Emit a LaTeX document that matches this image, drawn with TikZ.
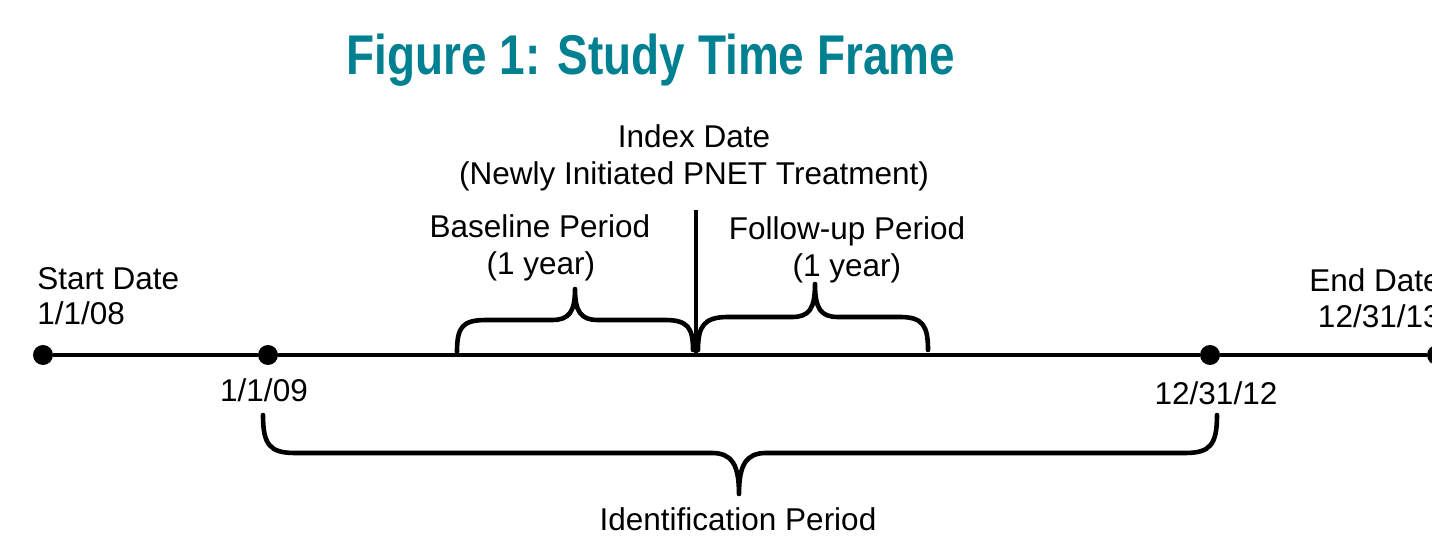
\documentclass[tikz,border=0pt]{standalone}
\usepackage{fontspec}
\setmainfont{Liberation Sans}
\newfontfamily\titlefont[FakeStretch=0.82]{Liberation Sans}
\definecolor{titleteal}{RGB}{0,128,145}
\begin{document}
\begin{tikzpicture}[x=0.5pt,y=-0.5pt,
  lbl/.style={inner sep=0pt, anchor=base, font=\fontsize{15.75}{18.5}\selectfont},
  lbll/.style={lbl, anchor=base west},
  lblr/.style={lbl, anchor=base east},
  dot/.style={circle, fill=black, inner sep=0pt, minimum size=10pt},
  tline/.style={line width=2.2pt},
  brace/.style={line width=2.3pt, line cap=round, line join=round}]
\useasboundingbox (0,0) rectangle (1432,539);
% title
\node[inner sep=0pt, anchor=base, text=titleteal, font=\titlefont\bfseries\fontsize{28}{32}\selectfont] (title) at (651,75) {Figure 1: Study Time Frame};
% index date
\node[lbl] (idx1) at (694,148) {Index Date};
\node[lbl] (idx2) at (694,185) {(Newly Initiated PNET Treatment)};
% periods
\node[lbl] (base1) at (540,238) {Baseline Period};
\node[lbl] (base2) at (541,275) {(1 year)};
\node[lbl] (fol1) at (847,240) {Follow-up Period};
\node[lbl] (fol2) at (847,277) {(1 year)};
% dates
\node[lbll] (start1) at (37,290) {Start Date};
\node[lbll] (start2) at (37,325) {1/1/08};
\node[lbl] (d09) at (264,402) {1/1/09};
\node[lbl] (d12) at (1216,405) {12/31/12};
\node[lblr] (end1) at (1441,292) {End Date};
\node[lblr] (end2) at (1441,328) {12/31/13};
\node[lbl] (ident) at (738,531) {Identification Period};
% timeline dots
\node[dot] (p1) at (43,355) {};
\node[dot] (p2) at (268,355) {};
\node[dot] (p3) at (1210,355) {};
\node[dot] (p4) at (1437,355) {};
\coordinate (itop) at (696,210);
\coordinate (ibot) at (696,355);
% timeline
\draw[tline] (p1) -- (p2) -- (p3) -- (p4);
\draw[tline] (itop) -- (ibot);
% baseline brace
\draw[brace] (457,352) .. controls (457,326) and (463,320) .. (487,320) -- (552,320)
  .. controls (569,320) and (575,312) .. (575,289)
  .. controls (575,312) and (581,320) .. (598,320) -- (665,320)
  .. controls (688,320) and (693,328) .. (693,350);
% follow-up brace
\draw[brace] (698,350) .. controls (698,326) and (704,317) .. (728,317) -- (792,317)
  .. controls (809,317) and (815,309) .. (815,284)
  .. controls (815,309) and (821,317) .. (838,317) -- (900,317)
  .. controls (923,317) and (928,326) .. (928,350);
% identification brace
\draw[brace] (263,415) .. controls (263,445) and (270,453) .. (295,453) -- (712,453)
  .. controls (732,453) and (739,465) .. (739,494)
  .. controls (739,465) and (746,453) .. (766,453) -- (1185,453)
  .. controls (1210,453) and (1217,445) .. (1217,415);
\end{tikzpicture}
\end{document}
